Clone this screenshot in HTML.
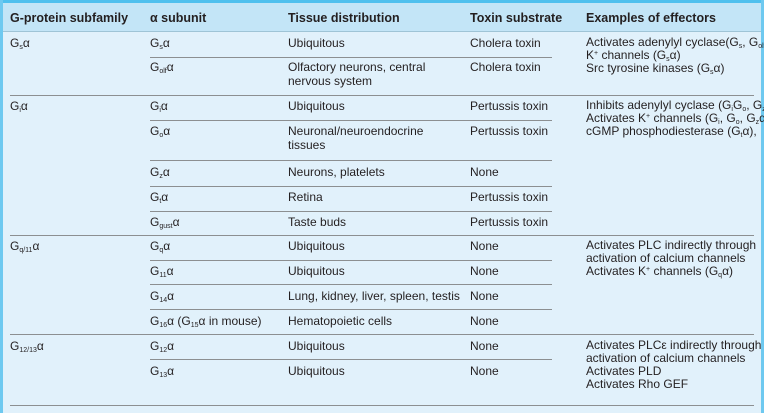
<!DOCTYPE html>
<html><head><meta charset="utf-8">
<style>
html,body{margin:0;padding:0;}
body{width:764px;height:413px;position:relative;overflow:hidden;background:#ffffff;font-family:"Liberation Sans Narrow","Liberation Sans",sans-serif;color:#231f20;}
#tbl{position:absolute;left:0;top:0;width:764px;height:413px;background:#e1f1fb;}
.topbar{position:absolute;left:0;top:0;width:764px;height:3px;background:#4fc0ee;}
.lb{position:absolute;left:0;top:0;width:3px;height:413px;background:#6ec9f0;}
.rb{position:absolute;right:0;top:0;width:3px;height:413px;background:#6ec9f0;}
.hdr{position:absolute;left:3px;top:3px;width:758px;height:28px;background:#c3e5f7;}
.ln{position:absolute;height:1px;background:#8c8f91;}
.t{position:absolute;font-size:12px;line-height:14px;white-space:nowrap;}
.h{position:absolute;font-size:12.5px;font-weight:bold;line-height:14px;top:11px;white-space:nowrap;}
sub{font-size:7px;vertical-align:-2px;line-height:0;}
sup{font-size:7px;vertical-align:4px;line-height:0;}
</style></head><body>
<div id="tbl">
<div class="topbar"></div>
<div class="lb"></div>
<div class="rb"></div>
<div class="hdr"></div>
<div class="h" style="left:10px">G-protein subfamily</div>
<div class="h" style="left:150px">α subunit</div>
<div class="h" style="left:288px">Tissue distribution</div>
<div class="h" style="left:470px">Toxin substrate</div>
<div class="h" style="left:586px">Examples of effectors</div>
<div class="ln" style="left:3px;top:31px;width:758px;background:#9fc4d6"></div>

<!-- group lines -->
<div class="ln" style="left:10px;top:95px;width:744px"></div>
<div class="ln" style="left:10px;top:235px;width:744px"></div>
<div class="ln" style="left:10px;top:334px;width:744px"></div>
<div class="ln" style="left:10px;top:405px;width:744px"></div>
<!-- inner lines -->
<div class="ln" style="left:150px;top:57px;width:402px"></div>
<div class="ln" style="left:150px;top:120px;width:402px"></div>
<div class="ln" style="left:150px;top:160px;width:402px"></div>
<div class="ln" style="left:150px;top:186px;width:402px"></div>
<div class="ln" style="left:150px;top:211px;width:402px"></div>
<div class="ln" style="left:150px;top:260px;width:402px"></div>
<div class="ln" style="left:150px;top:284px;width:402px"></div>
<div class="ln" style="left:150px;top:309px;width:402px"></div>
<div class="ln" style="left:150px;top:359px;width:402px"></div>

<!-- Gs group -->
<div class="t" style="left:10px;top:36px">G<sub>s</sub>α</div>
<div class="t" style="left:150px;top:36px">G<sub>s</sub>α</div>
<div class="t" style="left:288px;top:36px">Ubiquitous</div>
<div class="t" style="left:470px;top:36px">Cholera toxin</div>
<div class="t" style="left:150px;top:60px">G<sub>olf</sub>α</div>
<div class="t" style="left:288px;top:60px">Olfactory neurons, central<br>nervous system</div>
<div class="t" style="left:470px;top:60px">Cholera toxin</div>
<div class="t" style="left:586px;top:36px;line-height:13px">Activates adenylyl cyclase(G<sub>s</sub>, G<sub>olf</sub>α)<br>K<sup>+</sup> channels (G<sub>s</sub>α)<br>Src tyrosine kinases (G<sub>s</sub>α)</div>

<!-- Gi group -->
<div class="t" style="left:10px;top:99px">G<sub>i</sub>α</div>
<div class="t" style="left:150px;top:99px">G<sub>i</sub>α</div>
<div class="t" style="left:288px;top:99px">Ubiquitous</div>
<div class="t" style="left:470px;top:99px">Pertussis toxin</div>
<div class="t" style="left:150px;top:124px">G<sub>o</sub>α</div>
<div class="t" style="left:288px;top:124px">Neuronal/neuroendocrine<br>tissues</div>
<div class="t" style="left:470px;top:124px">Pertussis toxin</div>
<div class="t" style="left:150px;top:165px">G<sub>z</sub>α</div>
<div class="t" style="left:288px;top:165px">Neurons, platelets</div>
<div class="t" style="left:470px;top:165px">None</div>
<div class="t" style="left:150px;top:190px">G<sub>t</sub>α</div>
<div class="t" style="left:288px;top:190px">Retina</div>
<div class="t" style="left:470px;top:190px">Pertussis toxin</div>
<div class="t" style="left:150px;top:215px">G<sub>gust</sub>α</div>
<div class="t" style="left:288px;top:215px">Taste buds</div>
<div class="t" style="left:470px;top:215px">Pertussis toxin</div>
<div class="t" style="left:586px;top:99px;line-height:13px">Inhibits adenylyl cyclase (G<sub>i</sub>G<sub>o</sub>, G<sub>z</sub>α)<br>Activates K<sup>+</sup> channels (G<sub>i</sub>, G<sub>o</sub>, G<sub>z</sub>α)<br>cGMP phosphodiesterase (G<sub>t</sub>α),</div>

<!-- Gq group -->
<div class="t" style="left:10px;top:239px">G<sub>q/11</sub>α</div>
<div class="t" style="left:150px;top:239px">G<sub>q</sub>α</div>
<div class="t" style="left:288px;top:239px">Ubiquitous</div>
<div class="t" style="left:470px;top:239px">None</div>
<div class="t" style="left:150px;top:264px">G<sub>11</sub>α</div>
<div class="t" style="left:288px;top:264px">Ubiquitous</div>
<div class="t" style="left:470px;top:264px">None</div>
<div class="t" style="left:150px;top:289px">G<sub>14</sub>α</div>
<div class="t" style="left:288px;top:289px">Lung, kidney, liver, spleen, testis</div>
<div class="t" style="left:470px;top:289px">None</div>
<div class="t" style="left:150px;top:314px">G<sub>16</sub>α (G<sub>15</sub>α in mouse)</div>
<div class="t" style="left:288px;top:314px">Hematopoietic cells</div>
<div class="t" style="left:470px;top:314px">None</div>
<div class="t" style="left:586px;top:239px;line-height:13px">Activates PLC indirectly through<br>activation of calcium channels<br>Activates K<sup>+</sup> channels (G<sub>q</sub>α)</div>

<!-- G12/13 group -->
<div class="t" style="left:10px;top:339px">G<sub>12/13</sub>α</div>
<div class="t" style="left:150px;top:339px">G<sub>12</sub>α</div>
<div class="t" style="left:288px;top:339px">Ubiquitous</div>
<div class="t" style="left:470px;top:339px">None</div>
<div class="t" style="left:150px;top:364px">G<sub>13</sub>α</div>
<div class="t" style="left:288px;top:364px">Ubiquitous</div>
<div class="t" style="left:470px;top:364px">None</div>
<div class="t" style="left:586px;top:339px;line-height:13px">Activates PLCε indirectly through<br>activation of calcium channels<br>Activates PLD<br>Activates Rho GEF</div>
</div>
</body></html>
